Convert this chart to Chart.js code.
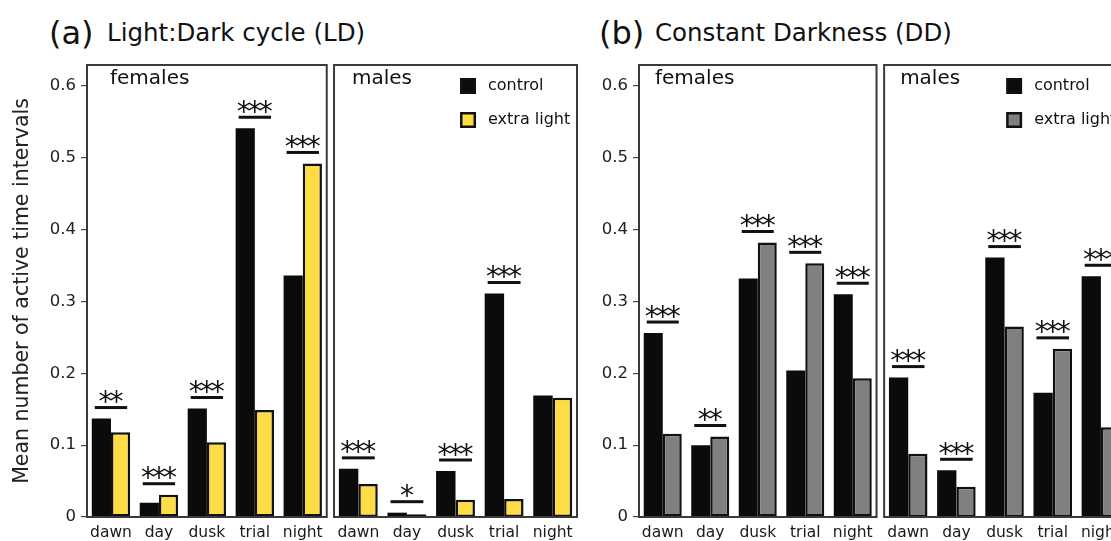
<!DOCTYPE html>
<html><head><meta charset="utf-8">
<script src="https://cdn.jsdelivr.net/npm/chart.js@4"></script>
<style>
body{margin:0;width:1111px;height:541px;overflow:hidden;background:#fff;position:relative;font-family:'DejaVu Sans',sans-serif;color:#111}
canvas{position:absolute;top:0}
.p{position:absolute;top:17px;font-size:32px;line-height:1;white-space:nowrap}
.t{position:absolute;top:21px;font-size:24.5px;line-height:1;white-space:nowrap}
</style></head><body>
<div class="p" style="left:49px">(a)</div>
<div class="t" style="left:107px">Light:Dark cycle (LD)</div>
<div class="p" style="left:599px">(b)</div>
<div class="t" style="left:655px">Constant Darkness (DD)</div>
<canvas id="c1" width="330" height="541" style="left:0px"></canvas>
<canvas id="c2" width="255" height="541" style="left:330px"></canvas>
<canvas id="c3" width="295" height="541" style="left:585px"></canvas>
<canvas id="c4" width="260" height="541" style="left:880px"></canvas>
<script>
const categories = ['dawn','day','dusk','trial','night'];
const seriesNames = ['control','extra light'];
const yTickValues = [0,0.1,0.2,0.3,0.4,0.5,0.6];

const ldFemaleControl = [0.137,0.020,0.151,0.541,0.336];
const ldFemaleExtra   = [0.118,0.031,0.104,0.149,0.492];
const ldMaleControl   = [0.067,0.006,0.064,0.311,0.169];
const ldMaleExtra     = [0.046,0.004,0.024,0.025,0.166];
const ddFemaleControl = [0.256,0.100,0.332,0.204,0.310];
const ddFemaleExtra   = [0.116,0.112,0.382,0.353,0.193];
const ddMaleControl   = [0.194,0.065,0.361,0.173,0.335];
const ddMaleExtra     = [0.088,0.042,0.265,0.234,0.125];

const ldFemaleSig = ['**','***','***','***','***'];
const ldMaleSig   = ['***','*','***','***',''];
const ddFemaleSig = ['***','**','***','***','***'];
const ddMaleSig   = ['***','***','***','***','***'];

const FONT = "'DejaVu Sans', sans-serif";
Chart.defaults.font.family = FONT;
Chart.defaults.color = '#1a1a1a';

const panelPlugin = {
  id: 'panel',
  afterDatasetsDraw(chart, args, o) {
    const {ctx, chartArea: a} = chart;
    ctx.save();
    ctx.strokeStyle = '#3a3a3a'; ctx.lineWidth = 2;
    ctx.strokeRect(a.left, a.top, a.right - a.left, a.bottom - a.top);
    ctx.fillStyle = '#111';
    ctx.font = '20px ' + FONT; ctx.textBaseline = 'middle'; ctx.textAlign = 'left';
    ctx.fillText(o.label, a.left + o.labelDx, 79);
    const m0 = chart.getDatasetMeta(0), m1 = chart.getDatasetMeta(1);
    o.sig.forEach((s, i) => {
      if (!s) return;
      const b0 = m0.data[i], b1 = m1.data[i];
      const x0 = b0.x - b0.width / 2, x1 = b1.x + b1.width / 2;
      const ly = Math.min(b0.y, b1.y) - 11;
      ctx.fillStyle = '#111';
      ctx.fillRect(x0 + 3, ly - 1.5, x1 - x0 - 6, 3);
      ctx.font = '28px ' + FONT; ctx.textAlign = 'center'; ctx.textBaseline = 'alphabetic';
      const n = s.length, cx = (x0 + x1) / 2;
      for (let k = 0; k < n; k++) {
        ctx.fillText('*', cx + (k - (n - 1) / 2) * 11, ly + 3.5);
      }
    });
    if (o.legend) {
      const lx = a.left + o.legendDx;
      const items = [[seriesNames[0], '#0b0b0b', 86], [seriesNames[1], o.extraColor, 120]];
      items.forEach(([t, c, y]) => {
        ctx.fillStyle = '#111';
        ctx.fillRect(lx, y - 8, 16, 16);
        ctx.fillStyle = c;
        ctx.fillRect(lx + 2.5, y - 5.5, 11, 11);
        ctx.fillStyle = '#111';
        ctx.font = '16px ' + FONT; ctx.textAlign = 'left'; ctx.textBaseline = 'middle';
        ctx.fillText(t, lx + 28, y);
      });
    }
    ctx.restore();
  }
};

function makeChart(id, control, extra, extraColor, cfg) {
  const yScale = {
    min: 0, max: 0.629,
    display: cfg.showY,
    afterBuildTicks: s => { s.ticks = yTickValues.map(v => ({value: v})); },
    afterFit: s => { if (cfg.showY) s.width = cfg.yWidth; },
    grid: {display: true, drawOnChartArea: false, drawTicks: true, tickLength: 6, color: '#444', lineWidth: 1.2},
    border: {display: false},
    ticks: {padding: 5, font: {size: 16.5}, color: '#222', callback: v => v === 0 ? '0' : v.toFixed(1)},
    title: {display: !!cfg.yTitle, text: cfg.yTitle || '', font: {size: 20.5}, color: '#222', padding: {top: 10, bottom: 0}}
  };
  return new Chart(document.getElementById(id), {
    type: 'bar',
    data: {
      labels: categories,
      datasets: [
        {label: seriesNames[0], data: control, backgroundColor: '#0b0b0b', borderColor: '#0b0b0b', borderWidth: 0},
        {label: seriesNames[1], data: extra, backgroundColor: extraColor, borderColor: '#111', borderWidth: 2.5, borderSkipped: false}
      ]
    },
    options: {
      responsive: false, animation: false, devicePixelRatio: 1,
      categoryPercentage: 0.8, barPercentage: 1.0,
      layout: {padding: {top: 65, bottom: 0, left: cfg.padL, right: cfg.padR}},
      plugins: {legend: {display: false}, tooltip: {enabled: false},
        panel: {label: cfg.label, labelDx: cfg.labelDx, sig: cfg.sig, legend: cfg.legend, legendDx: cfg.legendDx, extraColor: extraColor}},
      scales: {
        x: {
          afterFit: s => { s.height = 24; },
          grid: {display: false, drawTicks: false},
          border: {display: false},
          ticks: {padding: 7, font: {size: 15.5}, color: '#1a1a1a', maxRotation: 0}
        },
        y: yScale
      }
    },
    plugins: [panelPlugin]
  });
}

const yellow = '#FDDC45', grey = '#808080';
makeChart('c1', ldFemaleControl, ldFemaleExtra, yellow, {showY: true, yWidth: 87, yTitle: 'Mean number of active time intervals', padL: 0, padR: 3, label: 'females', labelDx: 23, sig: ldFemaleSig, legend: false});
makeChart('c2', ldMaleControl, ldMaleExtra, yellow, {showY: false, padL: 4, padR: 8, label: 'males', labelDx: 18, sig: ldMaleSig, legend: true, legendDx: 126});
makeChart('c3', ddFemaleControl, ddFemaleExtra, grey, {showY: true, yWidth: 54, padL: 0, padR: 3, label: 'females', labelDx: 16, sig: ddFemaleSig, legend: false});
makeChart('c4', ddMaleControl, ddMaleExtra, grey, {showY: false, padL: 3, padR: 15, label: 'males', labelDx: 16, sig: ddMaleSig, legend: true, legendDx: 122});
</script>
</body></html>
